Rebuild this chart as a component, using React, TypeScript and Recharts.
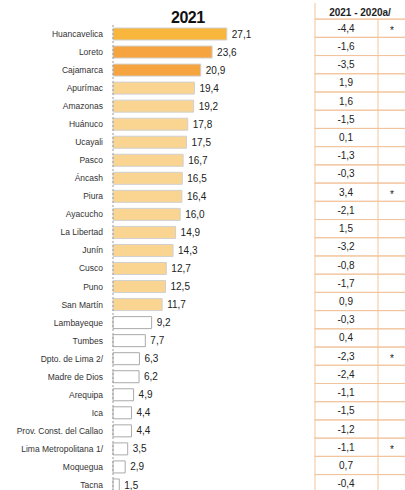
import React from 'react';
import { BarChart, Bar, XAxis, YAxis, LabelList, Cell } from 'recharts';

const regions = [
  'Huancavelica', 'Loreto', 'Cajamarca', 'Apurímac', 'Amazonas', 'Huánuco', 'Ucayali',
  'Pasco', 'Áncash', 'Piura', 'Ayacucho', 'La Libertad', 'Junín', 'Cusco', 'Puno',
  'San Martín', 'Lambayeque', 'Tumbes', 'Dpto. de Lima 2/', 'Madre de Dios', 'Arequipa',
  'Ica', 'Prov. Const. del Callao', 'Lima Metropolitana 1/', 'Moquegua', 'Tacna',
];

const rate2021 = [
  27.1, 23.6, 20.9, 19.4, 19.2, 17.8, 17.5, 16.7, 16.5, 16.4, 16.0, 14.9, 14.3,
  12.7, 12.5, 11.7, 9.2, 7.7, 6.3, 6.2, 4.9, 4.4, 4.4, 3.5, 2.9, 1.5,
];

const change = [
  -4.4, -1.6, -3.5, 1.9, 1.6, -1.5, 0.1, -1.3, -0.3, 3.4, -2.1, 1.5, -3.2,
  -0.8, -1.7, 0.9, -0.3, 0.4, -2.3, -2.4, -1.1, -1.5, -1.2, -1.1, 0.7, -0.4,
];

// rows with a significance mark in the right column
const marked = ['Huancavelica', 'Piura', 'Dpto. de Lima 2/', 'Lima Metropolitana 1/'];

const title = '2021';
const tableHeader = '2021 - 2020a/';

const data = regions.map((name, i) => ({
  name,
  value: rate2021[i],
  diff: change[i],
  mark: marked.includes(name),
}));

const fmt = (v: number) => v.toFixed(1).replace('.', ',');

const barColor = (i: number) => {
  if (i === 0) return '#F8B63C';
  if (i < 3) return '#F5A440';
  if (i < 16) return '#F9D591';
  return '#FFFFFF';
};

const gridColor = '#F2C49C';
const font = "'Liberation Sans', Arial, sans-serif";

const NameTick = (props: any) => {
  const { y, payload } = props;
  return (
    <text x={103} y={y} dy="0.35em" textAnchor="end" fontSize={8.5} fill="#333" fontFamily={font}>
      {payload.value}
    </text>
  );
};

const TableTick = (props: any) => {
  const { y, payload } = props;
  const row = data.find((d) => d.name === payload.value);
  if (!row) return null;
  const h = 18.2;
  const cy = 28.5 + (y - 34.3) * (18.2 / 18.02);
  const x0 = 315;
  const x1 = 378;
  const x2 = 420;
  const first = row.name === regions[0];
  return (
    <g>
      {first && (
        <g>
          <line x1={x0} y1={3} x2={x0} y2={cy - h / 2} stroke={gridColor} />
          <line x1={x0} y1={cy - h / 2} x2={x2} y2={cy - h / 2} stroke={gridColor} />
          <text x={360} y={16} textAnchor="middle" fontSize={10} fontWeight="bold" fill="#222" fontFamily={font}>
            {tableHeader}
          </text>
        </g>
      )}
      <rect x={x0} y={cy - h / 2} width={x2 - x0} height={h} fill="none" stroke={gridColor} />
      <line x1={x1} y1={cy - h / 2} x2={x1} y2={cy + h / 2} stroke={gridColor} />
      <text x={346} y={cy} dy="0.35em" textAnchor="middle" fontSize={10} fill="#222" fontFamily={font}>
        {fmt(row.diff)}
      </text>
      {row.mark && (
        <text x={392} y={cy} dy="0.55em" textAnchor="middle" fontSize={10} fill="#222">*</text>
      )}
    </g>
  );
};

export default function App() {
  return (
    <div style={{ position: 'absolute', left: 0, top: 0, width: 405, height: 490, overflow: 'hidden',
      background: '#fff', fontFamily: font }}>
      <div style={{ position: 'absolute', left: 171, top: 10, fontSize: 16, fontWeight: 'bold', lineHeight: 1,
        fontFamily: font, color: '#111', letterSpacing: -0.5 }}>
        {title}
      </div>
      <BarChart width={405} height={494} data={data} layout="vertical"
        margin={{ top: 25, right: 0, bottom: 0, left: 0 }}>
        <XAxis type="number" domain={[0, 40]} hide />
        <YAxis yAxisId="left" type="category" dataKey="name" width={113} tickSize={0} tickMargin={10}
          axisLine={{ stroke: '#999', strokeDasharray: '2 2' }}
          tick={<NameTick />} interval={0} />
        <YAxis yAxisId="right" orientation="right" type="category" dataKey="name" width={124}
          axisLine={false} tickLine={false} tick={<TableTick />} interval={0} />
        <Bar yAxisId="left" dataKey="value" barSize={12} strokeWidth={1} isAnimationActive={false}>
          {data.map((d, i) => (
            <Cell key={d.name} fill={barColor(i)} stroke={i >= 16 ? '#aaaaaa' : '#d0d0d0'} />
          ))}
          <LabelList dataKey="value" position="right" offset={5} formatter={(v: any) => fmt(Number(v))}
            style={{ fontSize: 10, fill: '#222', fontFamily: font }} />
        </Bar>
      </BarChart>
    </div>
  );
}
